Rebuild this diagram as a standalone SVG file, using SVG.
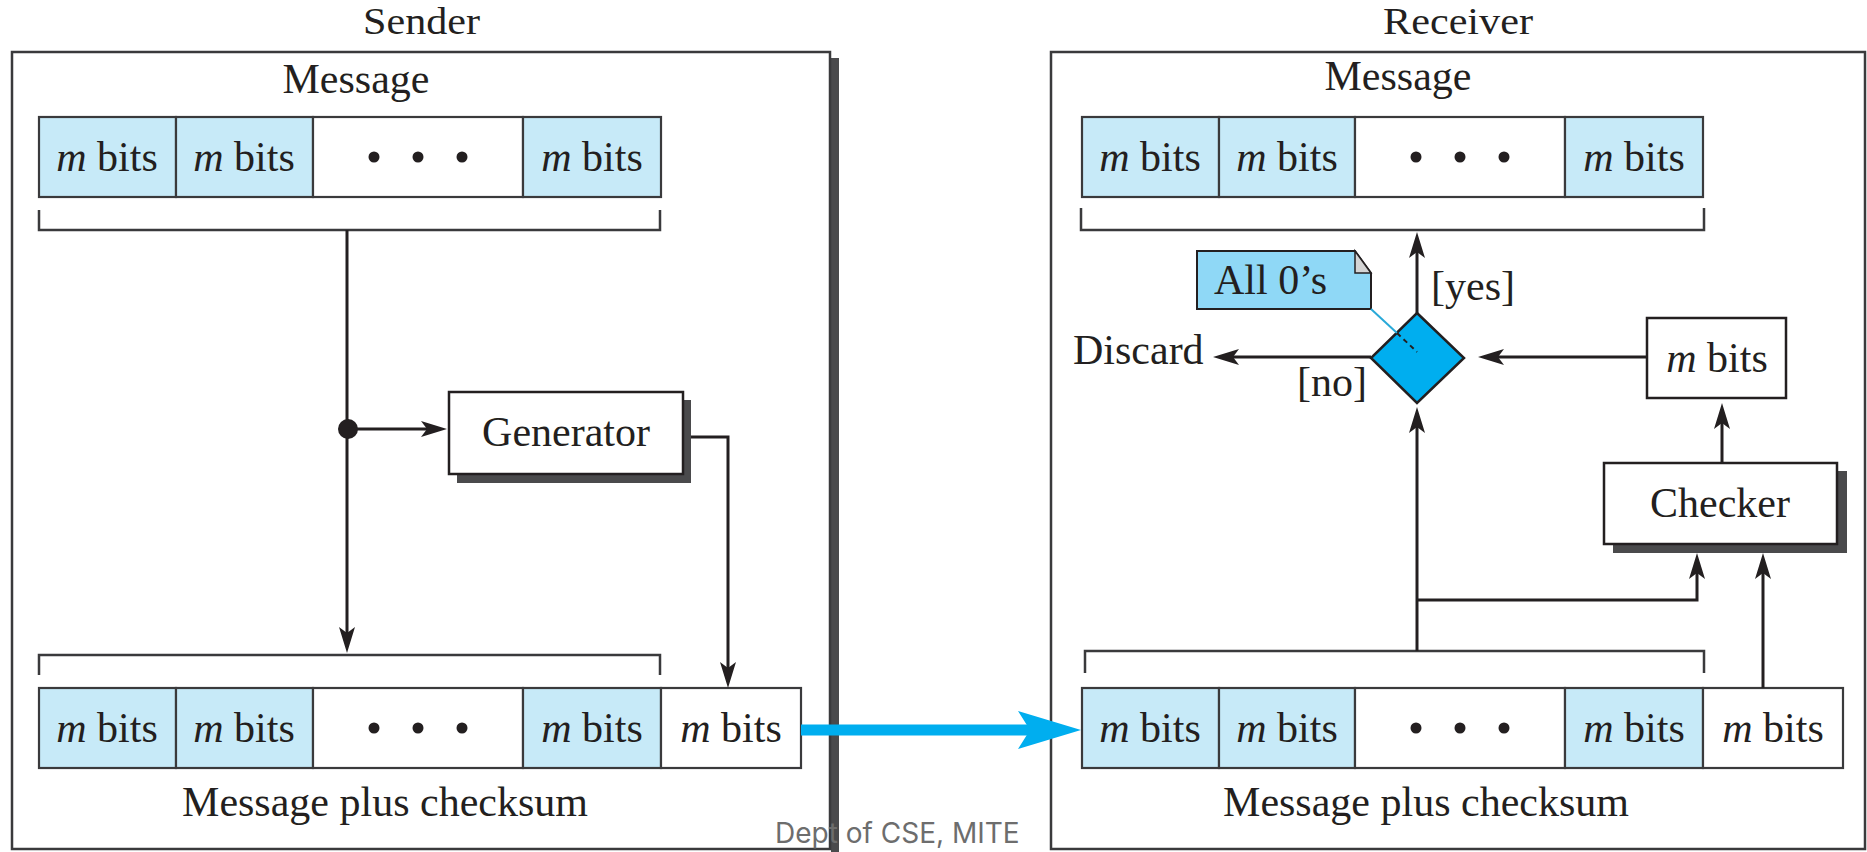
<svg xmlns="http://www.w3.org/2000/svg" width="1867" height="852" viewBox="0 0 1867 852">
<defs>
<style>
.t{font-family:"Liberation Serif","Times New Roman",serif;font-size:42px;fill:#231f20}
.ti{font-family:"Liberation Serif","Times New Roman",serif;font-size:38px;fill:#231f20}
.c{text-anchor:middle}
.frame{fill:#fff;stroke:#3a3a3c;stroke-width:2.5}
.cell{stroke:#3a3a3c;stroke-width:2.2}
.lb{fill:#c7eaf8}
.wh{fill:#fff}
.sh{fill:#4a4a4c}
.ln{fill:none;stroke:#231f20;stroke-width:3}
.br{fill:none;stroke:#3a3a3c;stroke-width:2.5}
.box{fill:#fff;stroke:#231f20;stroke-width:2.5}
.dot{fill:#231f20}
</style>
<marker id="arr" viewBox="0 -9 27 18" markerWidth="27" markerHeight="18" refX="16" refY="0" orient="auto" markerUnits="userSpaceOnUse">
<path d="M26,0 L0,-8 L6,0 L0,8 Z" fill="#231f20"/>
</marker>
</defs>
<rect width="1867" height="852" fill="#fff"/>

<g id="sender">
<text class="ti" x="363" y="34" textLength="117" lengthAdjust="spacingAndGlyphs">Sender</text>
<rect class="sh" x="831" y="58" width="8" height="794"/>
<rect class="frame" x="12" y="52" width="818" height="797"/>
<text class="t c" x="356" y="93">Message</text>
</g>

<g id="sender-message">
<rect class="cell lb" x="39" y="117" width="137" height="80"/>
<rect class="cell lb" x="176" y="117" width="137" height="80"/>
<rect class="cell wh" x="313" y="117" width="210" height="80"/>
<rect class="cell lb" x="523" y="117" width="138" height="80"/>
<text class="t c" x="107" y="171"><tspan font-style="italic">m</tspan> bits</text>
<text class="t c" x="244" y="171"><tspan font-style="italic">m</tspan> bits</text>
<circle class="dot" cx="374" cy="157" r="5.5"/><circle class="dot" cx="418" cy="157" r="5.5"/><circle class="dot" cx="462" cy="157" r="5.5"/>
<text class="t c" x="592" y="171"><tspan font-style="italic">m</tspan> bits</text>
</g>

<g id="generator">
<rect class="sh" x="457" y="400" width="234" height="83"/>
<rect class="box" x="449" y="392" width="234" height="82"/>
<text class="t c" x="566" y="446">Generator</text>
</g>

<g id="sender-packet">
<rect class="cell lb" x="39" y="688" width="137" height="80"/>
<rect class="cell lb" x="176" y="688" width="137" height="80"/>
<rect class="cell wh" x="313" y="688" width="210" height="80"/>
<rect class="cell lb" x="523" y="688" width="138" height="80"/>
<rect class="cell wh" x="661" y="688" width="140" height="80"/>
<text class="t c" x="107" y="742"><tspan font-style="italic">m</tspan> bits</text>
<text class="t c" x="244" y="742"><tspan font-style="italic">m</tspan> bits</text>
<circle class="dot" cx="374" cy="728" r="5.5"/><circle class="dot" cx="418" cy="728" r="5.5"/><circle class="dot" cx="462" cy="728" r="5.5"/>
<text class="t c" x="592" y="742"><tspan font-style="italic">m</tspan> bits</text>
<text class="t c" x="731" y="742"><tspan font-style="italic">m</tspan> bits</text>
<text class="t c" x="385" y="816">Message plus checksum</text>
</g>

<g id="receiver">
<text class="ti" x="1383" y="34" textLength="150" lengthAdjust="spacingAndGlyphs">Receiver</text>
<rect class="frame" x="1051" y="52" width="814" height="797"/>
<text class="t c" x="1398" y="90">Message</text>
</g>

<g id="receiver-message">
<rect class="cell lb" x="1082" y="117" width="137" height="80"/>
<rect class="cell lb" x="1219" y="117" width="136" height="80"/>
<rect class="cell wh" x="1355" y="117" width="210" height="80"/>
<rect class="cell lb" x="1565" y="117" width="138" height="80"/>
<text class="t c" x="1150" y="171"><tspan font-style="italic">m</tspan> bits</text>
<text class="t c" x="1287" y="171"><tspan font-style="italic">m</tspan> bits</text>
<circle class="dot" cx="1416" cy="157" r="5.5"/><circle class="dot" cx="1460" cy="157" r="5.5"/><circle class="dot" cx="1504" cy="157" r="5.5"/>
<text class="t c" x="1634" y="171"><tspan font-style="italic">m</tspan> bits</text>
</g>

<g id="note">
<path d="M1197,251 L1355,251 L1371,273 L1371,309 L1197,309 Z" fill="#8fd8f6" stroke="#231f20" stroke-width="2"/>
<path d="M1355,251 L1355,273 L1371,273 Z" fill="#d4d4d4" stroke="#231f20" stroke-width="1.5"/>
<text class="t" x="1214" y="294">All 0’s</text>
</g>

<g id="decision">
<path d="M1417,313 L1464,358 L1417,403 L1371,358 Z" fill="#00aeef" stroke="#231f20" stroke-width="2.5"/>
</g>

<g id="checksum-box">
<rect class="box" x="1647" y="318" width="139" height="80"/>
<text class="t c" x="1717" y="372"><tspan font-style="italic">m</tspan> bits</text>
</g>

<g id="checker">
<rect class="sh" x="1613" y="471" width="234" height="82"/>
<rect class="box" x="1604" y="463" width="233" height="81"/>
<text class="t c" x="1720" y="517">Checker</text>
</g>

<g id="receiver-packet">
<rect class="cell lb" x="1082" y="688" width="137" height="80"/>
<rect class="cell lb" x="1219" y="688" width="136" height="80"/>
<rect class="cell wh" x="1355" y="688" width="210" height="80"/>
<rect class="cell lb" x="1565" y="688" width="138" height="80"/>
<rect class="cell wh" x="1703" y="688" width="140" height="80"/>
<text class="t c" x="1150" y="742"><tspan font-style="italic">m</tspan> bits</text>
<text class="t c" x="1287" y="742"><tspan font-style="italic">m</tspan> bits</text>
<circle class="dot" cx="1416" cy="728" r="5.5"/><circle class="dot" cx="1460" cy="728" r="5.5"/><circle class="dot" cx="1504" cy="728" r="5.5"/>
<text class="t c" x="1634" y="742"><tspan font-style="italic">m</tspan> bits</text>
<text class="t c" x="1773" y="742"><tspan font-style="italic">m</tspan> bits</text>
<text class="t c" x="1426" y="816">Message plus checksum</text>
</g>

<g id="labels">
<text class="t" x="1431" y="300">[yes]</text>
<text class="t" x="1297" y="396">[no]</text>
<text class="t" x="1073" y="364">Discard</text>
</g>

<g id="connectors">
<path class="br" d="M39,210 V230 H660 V210"/>
<path class="br" d="M39,675 V655 H660 V675"/>
<path class="br" d="M1081,208 V230 H1704 V208"/>
<path class="br" d="M1085,673 V651 H1704 V673"/>
<path class="ln" d="M347,230 V643" marker-end="url(#arr)"/>
<circle class="dot" cx="348" cy="429" r="10"/>
<path class="ln" d="M348,429 H437" marker-end="url(#arr)"/>
<path class="ln" d="M691,437 H728 V678" marker-end="url(#arr)"/>
<path class="ln" d="M1417,313 V242" marker-end="url(#arr)"/>
<path class="ln" d="M1371,357 H1223" marker-end="url(#arr)"/>
<path class="ln" d="M1647,357 H1488" marker-end="url(#arr)"/>
<path class="ln" d="M1722,463 V413" marker-end="url(#arr)"/>
<path class="ln" d="M1417,651 V417" marker-end="url(#arr)"/>
<path class="ln" d="M1417,600 H1697 V563" marker-end="url(#arr)"/>
<path class="ln" d="M1763,688 V563" marker-end="url(#arr)"/>
<line x1="1371" y1="309" x2="1397" y2="333" stroke="#29a9d8" stroke-width="2"/>
<line x1="1397" y1="333" x2="1417" y2="352" stroke="#231f20" stroke-width="2" stroke-dasharray="5,4"/>
<path d="M801,730 H1030" fill="none" stroke="#00aeef" stroke-width="11"/>
<path d="M1081,730 L1018,711 L1030,730 L1018,749 Z" fill="#00aeef"/>
</g>

<text x="775" y="843" font-family="Inter, 'Open Sans', sans-serif" font-size="28" fill="#6d6d6d">Dept of CSE, MITE</text>
</svg>
